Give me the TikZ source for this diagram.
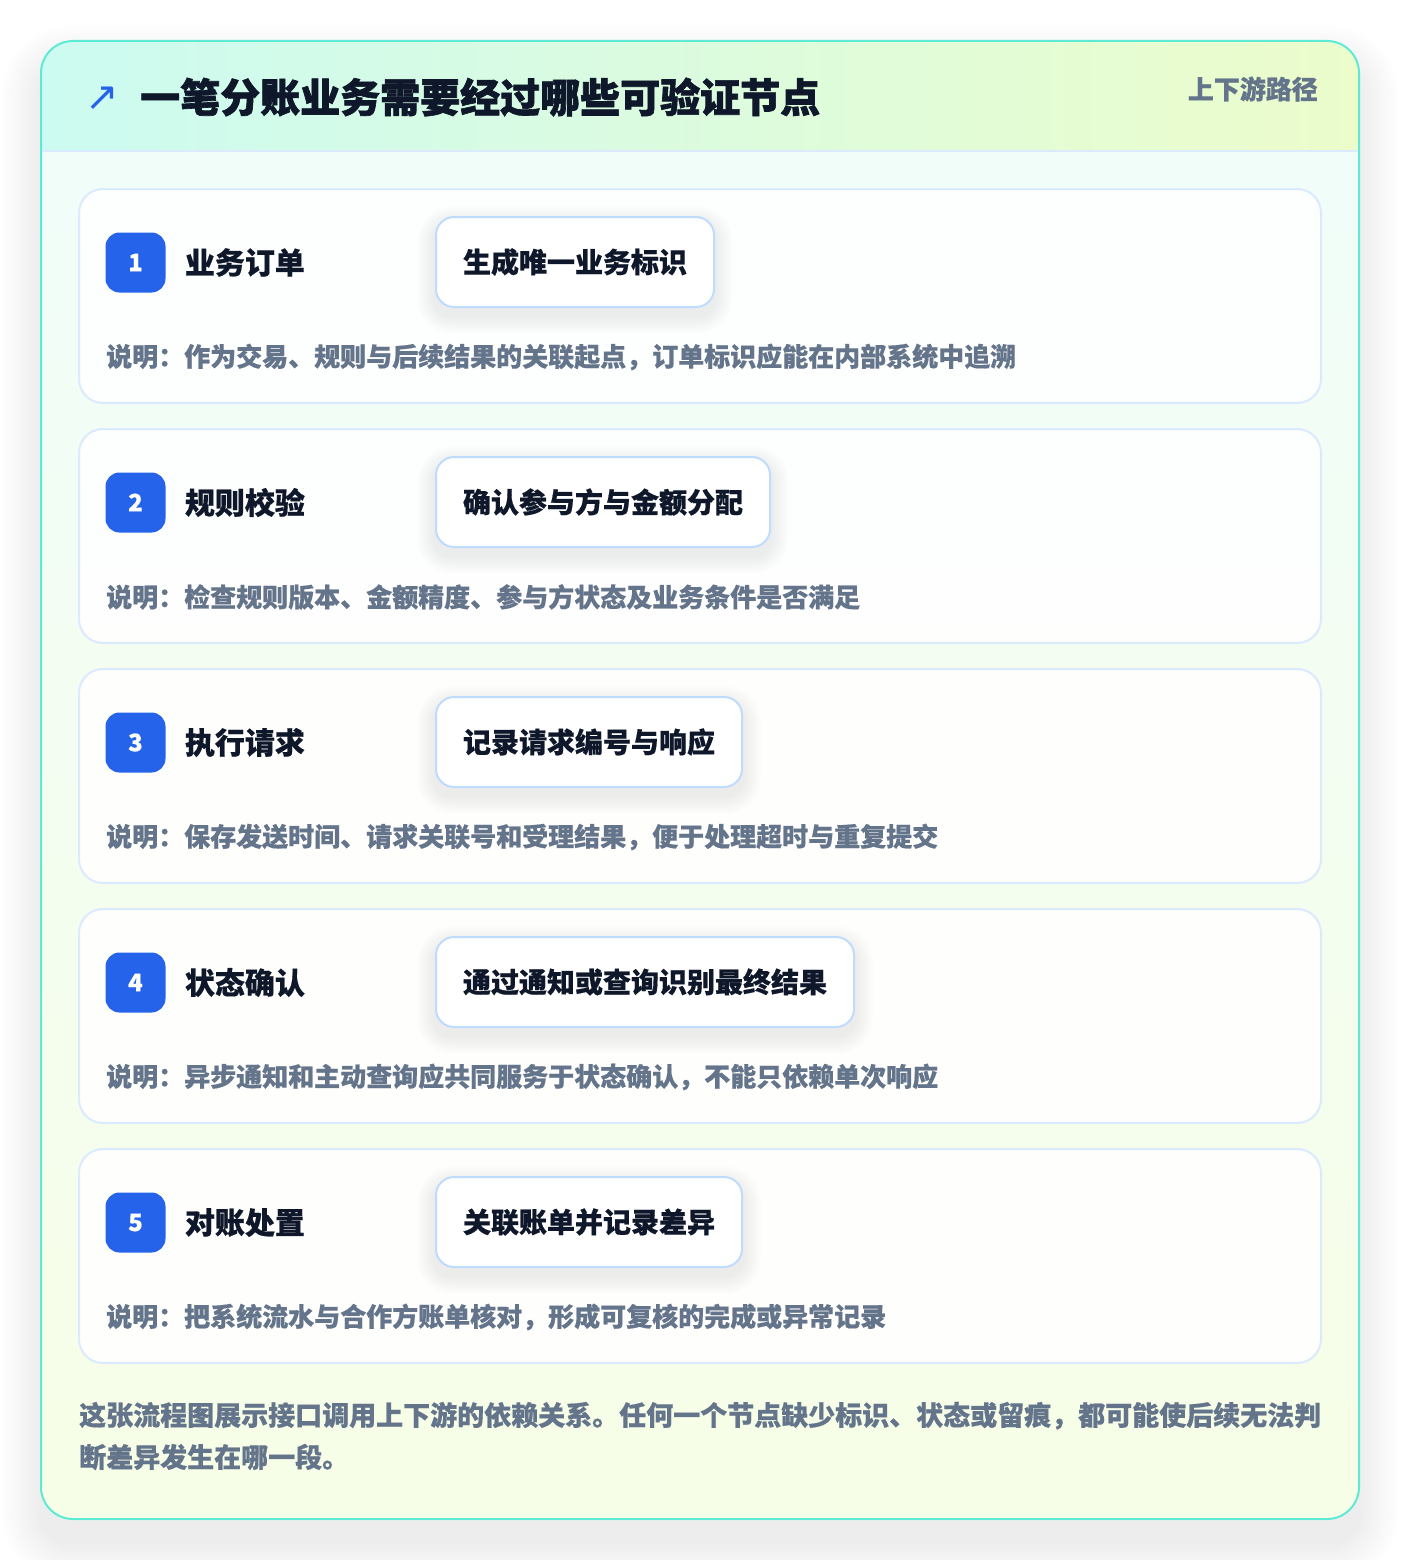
\documentclass[tikz,border=0pt]{standalone}
\usepackage{fontspec}
\setmainfont{Noto Sans CJK SC}[BoldFeatures={FakeBold=0.5}]
\newfontfamily\heavyfont{Noto Sans CJK SC}[BoldFeatures={FakeBold=1.6}]
\newfontfamily\symfont{DejaVu Sans}
\usetikzlibrary{positioning}
\pgfdeclarelayer{back}
\pgfdeclarelayer{shade}
\pgfsetlayers{back,shade,main}
\definecolor{frameline}{HTML}{5EEAD4}
\definecolor{headleft}{HTML}{CCFBF1}
\definecolor{headright}{HTML}{ECFCCB}
\definecolor{bodytop}{HTML}{F0FDFA}
\definecolor{bodybottom}{HTML}{F7FEE7}
\definecolor{cardline}{HTML}{DBEAFE}
\definecolor{pillline}{HTML}{BFDBFE}
\definecolor{badgeblue}{HTML}{2563EB}
\definecolor{titleink}{HTML}{0F172A}
\definecolor{noteink}{HTML}{64748B}
\begin{document}
\begin{tikzpicture}[x=1pt, y=-1pt,
    card/.style={draw=cardline, line width=2pt, fill=white, fill opacity=0.92,
      rounded corners=24pt, minimum width=1242pt, minimum height=214pt, inner sep=0pt},
    badge/.style={fill=badgeblue, rounded corners=14pt, minimum size=60pt, inner sep=0pt,
      text=white, font=\bfseries\fontsize{24}{24}\selectfont},
    steptitle/.style={inner sep=0pt, text=titleink, font=\bfseries\fontsize{30}{30}\selectfont},
    pill/.style={draw=pillline, line width=2pt, fill=white, rounded corners=18pt,
      minimum height=90pt, inner xsep=27pt, inner ysep=0pt, text=titleink,
      font=\bfseries\fontsize{28}{28}\selectfont},
    note/.style={anchor=west, inner sep=0pt, text=noteink, font=\bfseries\fontsize{26}{26}\selectfont}]
  \useasboundingbox (0,0) rectangle (1400,1560);
  \begin{pgfonlayer}{back}
  \fill[white] (0,0) rectangle (1400,1560);
  % outer frame and its shadow
  \foreach \k in {1,...,18}
    \fill[black, opacity=0.0042, rounded corners=32pt+2*\k pt]
      (41-2.2*\k,41-2.2*\k+24) rectangle (1359+2.2*\k,1519+2.2*\k+24);
  \fill[white, rounded corners=32pt] (41,41) rectangle (1359,1519);
  \shade[rounded corners=32pt, top color=bodytop, bottom color=bodybottom] (41,41) rectangle (1359,1519);
  \begin{scope}
    \clip[rounded corners=32pt] (41,41) rectangle (1359,1519);
    \shade[left color=headleft, right color=headright] (41,41) rectangle (1359,151);
  \end{scope}
  \draw[cardline, line width=2pt] (42,151) -- (1358,151);
  \draw[frameline, line width=2pt, rounded corners=32pt] (41,41) rectangle (1359,1519);
  \end{pgfonlayer}
  % header
  \node[inner sep=0pt, text=badgeblue, font=\symfont\fontsize{40}{40}\selectfont] (icon) at (102,99) {↗};
  \node[anchor=west, inner sep=0pt, text=titleink, font=\heavyfont\bfseries\fontsize{40}{40}\selectfont] (title) at (140,97) {一笔分账业务需要经过哪些可验证节点};
  \node[anchor=east, inner sep=0pt, text=noteink, font=\bfseries\fontsize{26}{26}\selectfont] (tag) at (1318,89) {上下游路径};
  % steps
  \foreach \i/\name/\act/\desc in {
      1/业务订单/生成唯一业务标识/作为交易、规则与后续结果的关联起点，订单标识应能在内部系统中追溯,
      2/规则校验/确认参与方与金额分配/检查规则版本、金额精度、参与方状态及业务条件是否满足,
      3/执行请求/记录请求编号与响应/保存发送时间、请求关联号和受理结果，便于处理超时与重复提交,
      4/状态确认/通过通知或查询识别最终结果/异步通知和主动查询应共同服务于状态确认，不能只依赖单次响应,
      5/对账处置/关联账单并记录差异/把系统流水与合作方账单核对，形成可复核的完成或异常记录} {
    \pgfmathsetmacro\cardtop{189+240*(\i-1)}
    \begin{pgfonlayer}{back}
      \node[card] (card\i) at (700,\cardtop+107) {};
    \end{pgfonlayer}
    \node[badge] (badge\i) at (135.5,\cardtop+73.5) {\i};
    \node[steptitle, right=19pt of badge\i] (name\i) {\name};
    \node[pill, anchor=west] (pill\i) at (435,\cardtop+73) {\act};
    \begin{pgfonlayer}{shade}
      \foreach \k in {1,...,9}
        \fill[black, opacity=0.007, rounded corners=18pt+2*\k pt]
          ([shift={(-2*\k,-2*\k+8)}]pill\i.north west) rectangle ([shift={(2*\k,2*\k+8)}]pill\i.south east);
    \end{pgfonlayer}
    \node[note] (note\i) at (106,\cardtop+168) {说明：\desc};
  }
  % footer
  \node[anchor=west, inner sep=0pt, align=left, text=noteink,
    font=\bfseries\fontsize{27}{42}\selectfont] (summary) at (79,1436)
    {这张流程图展示接口调用上下游的依赖关系。任何一个节点缺少标识、状态或留痕，都可能使后续无法判\\断差异发生在哪一段。};
\end{tikzpicture}
\end{document}
